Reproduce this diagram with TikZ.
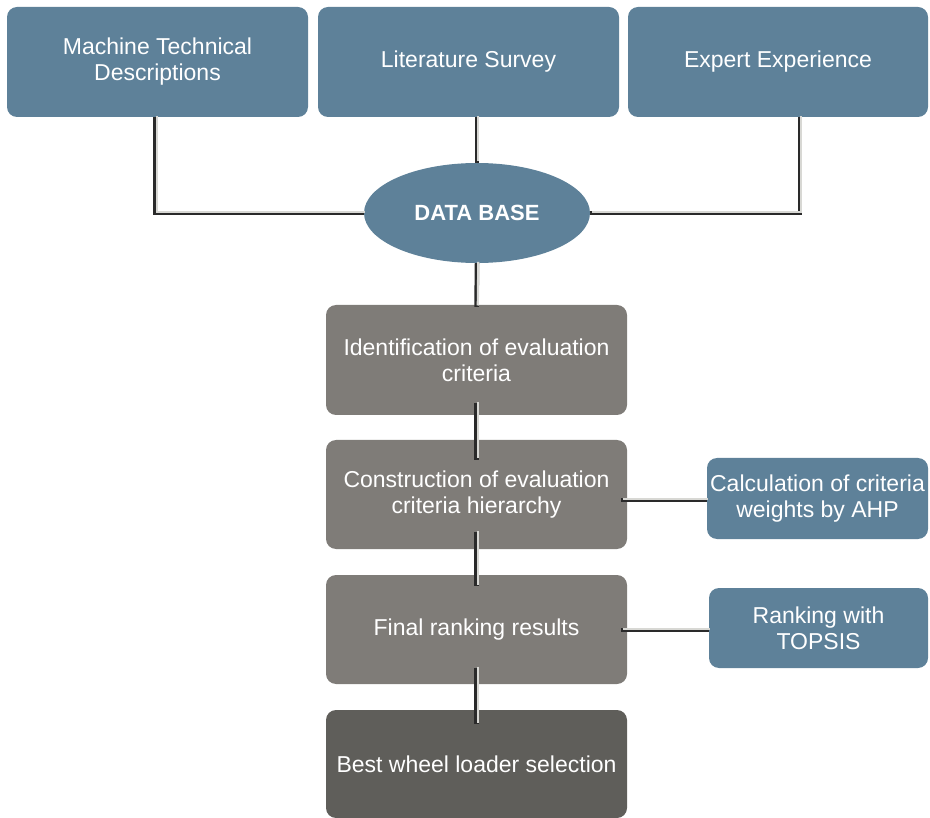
\documentclass[tikz,border=0pt]{standalone}
\usepackage{fontspec}
\setmainfont{Liberation Sans}
\usetikzlibrary{shapes.geometric}
\definecolor{boxblue}{HTML}{5E8199}
\definecolor{boxgray}{HTML}{7F7C78}
\definecolor{boxdark}{HTML}{5F5E5A}
\definecolor{pipedark}{HTML}{2A2A2A}
\definecolor{pipelight}{HTML}{D8D8D4}

\begin{document}
\begin{tikzpicture}[x=1pt, y=-1pt,
  card/.style={rounded corners=10pt, text=white, align=center,
    font=\fontsize{23}{26}\selectfont, inner sep=2pt},
  bluecard/.style={card, fill=boxblue},
  graycard/.style={card, fill=boxgray, minimum width=301pt, minimum height=110pt},
  pipe/.style={draw=pipedark, line width=4.5pt,
    postaction={draw=pipelight, line width=2.2pt, transform canvas={shift={(1.3pt,1.3pt)}}}}]
\useasboundingbox (0,0) rectangle (930,818);

% Sources
\node[bluecard, minimum width=301pt, minimum height=110pt] (mtd) at (157.5,62) {Machine Technical\\Descriptions};
\node[bluecard, minimum width=301pt, minimum height=110pt] (ls) at (468.5,62) {Literature Survey};
\node[bluecard, minimum width=300pt, minimum height=110pt] (ee) at (778,62) {Expert Experience};

% Data base
\node[ellipse, fill=boxblue, text=white, minimum width=226pt, minimum height=100pt,
  font=\fontsize{22}{26}\selectfont\bfseries] (db) at (477,213) {DATA BASE};

% Main steps
\node[graycard] (ident) at (476.5,360) {Identification of evaluation\\criteria};
\node[graycard, minimum height=109pt] (constr) at (476.5,494.5) {Construction of evaluation\\criteria hierarchy};
\node[graycard, minimum height=109pt] (final) at (476.5,629.5) {Final ranking results};
\node[graycard, fill=boxdark, minimum height=108pt] (best) at (476.5,764) {Best wheel loader selection};

% Methods
\node[bluecard, minimum width=221pt, minimum height=81pt] (ahp) at (817.5,498.5) {Calculation of criteria\\weights by AHP};
\node[bluecard, minimum width=219pt, minimum height=80pt] (topsis) at (818.5,628) {Ranking with\\TOPSIS};

% Connectors
\draw[pipe] ([xshift=-2pt]mtd.south) |- (db.west);
\draw[pipe] ([xshift=22pt]ee.south) |- (db.east);
\draw[pipe] (ls.south -| db.north) -- (db.north);
\draw[pipe] (db.south) -- ([yshift=-2pt]ident.north);
\draw[pipe] ([yshift=12pt]ident.south) -- ([yshift=-20pt]constr.north);
\draw[pipe] ([yshift=17pt]constr.south) -- ([yshift=-11pt]final.north);
\draw[pipe] ([yshift=16pt]final.south) -- ([yshift=-14pt]best.north);
\draw[pipe] ([xshift=-6pt,yshift=-1.5pt]constr.east |- ahp.west) -- ([yshift=-1.5pt]ahp.west);
\draw[pipe] ([xshift=-6pt,yshift=-2pt]final.east |- topsis.west) -- ([yshift=-2pt]topsis.west);
\end{tikzpicture}
\end{document}
